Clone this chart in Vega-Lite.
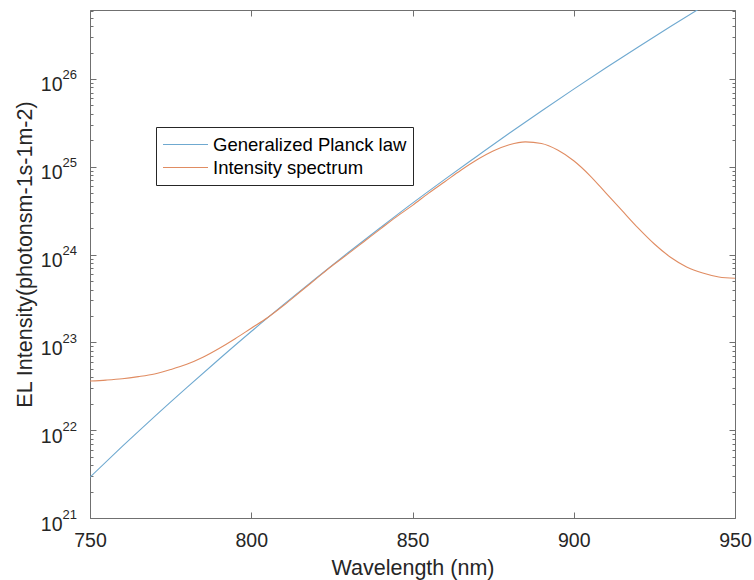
{
  "$schema": "https://vega.github.io/schema/vega-lite/v6.json",
  "width": 645,
  "height": 508,
  "autosize": {"type": "none"},
  "padding": {"left": 90, "top": 10, "right": 19, "bottom": 62},
  "background": "white",
  "config": {
    "view": {"stroke": null},
    "font": "Liberation Sans",
    "axis": {"grid": false, "domainColor": "#707070", "tickColor": "#707070", "labelColor": "#262626", "titleColor": "#262626", "labelFont": "Liberation Sans", "titleFont": "Liberation Sans", "titleFontWeight": "normal", "labelFlush": false, "labelOverlap": false, "labelBound": false}
  },
  "data": {"values": [
    {"wl": 750, "value": 2.92e21, "series": "Generalized Planck law"},
    {"wl": 760, "value": 6.53e21, "series": "Generalized Planck law"},
    {"wl": 770, "value": 1.43e22, "series": "Generalized Planck law"},
    {"wl": 780, "value": 3.06e22, "series": "Generalized Planck law"},
    {"wl": 790, "value": 6.43e22, "series": "Generalized Planck law"},
    {"wl": 800, "value": 1.33e23, "series": "Generalized Planck law"},
    {"wl": 810, "value": 2.69e23, "series": "Generalized Planck law"},
    {"wl": 820, "value": 5.36e23, "series": "Generalized Planck law"},
    {"wl": 830, "value": 1.05e24, "series": "Generalized Planck law"},
    {"wl": 840, "value": 2.02e24, "series": "Generalized Planck law"},
    {"wl": 850, "value": 3.85e24, "series": "Generalized Planck law"},
    {"wl": 860, "value": 7.19e24, "series": "Generalized Planck law"},
    {"wl": 870, "value": 1.32e25, "series": "Generalized Planck law"},
    {"wl": 880, "value": 2.41e25, "series": "Generalized Planck law"},
    {"wl": 890, "value": 4.32e25, "series": "Generalized Planck law"},
    {"wl": 900, "value": 7.66e25, "series": "Generalized Planck law"},
    {"wl": 910, "value": 1.34e26, "series": "Generalized Planck law"},
    {"wl": 920, "value": 2.31e26, "series": "Generalized Planck law"},
    {"wl": 930, "value": 3.95e26, "series": "Generalized Planck law"},
    {"wl": 940, "value": 6.67e26, "series": "Generalized Planck law"},
    {"wl": 950, "value": 1.11e27, "series": "Generalized Planck law"},
    {"wl": 750, "value": 3.63e22, "series": "Intensity spectrum"},
    {"wl": 755, "value": 3.72e22, "series": "Intensity spectrum"},
    {"wl": 760, "value": 3.85e22, "series": "Intensity spectrum"},
    {"wl": 765, "value": 4.07e22, "series": "Intensity spectrum"},
    {"wl": 770, "value": 4.37e22, "series": "Intensity spectrum"},
    {"wl": 775, "value": 4.90e22, "series": "Intensity spectrum"},
    {"wl": 780, "value": 5.62e22, "series": "Intensity spectrum"},
    {"wl": 785, "value": 6.76e22, "series": "Intensity spectrum"},
    {"wl": 790, "value": 8.51e22, "series": "Intensity spectrum"},
    {"wl": 795, "value": 1.10e23, "series": "Intensity spectrum"},
    {"wl": 800, "value": 1.45e23, "series": "Intensity spectrum"},
    {"wl": 805, "value": 1.91e23, "series": "Intensity spectrum"},
    {"wl": 810, "value": 2.63e23, "series": "Intensity spectrum"},
    {"wl": 815, "value": 3.72e23, "series": "Intensity spectrum"},
    {"wl": 820, "value": 5.25e23, "series": "Intensity spectrum"},
    {"wl": 825, "value": 7.41e23, "series": "Intensity spectrum"},
    {"wl": 830, "value": 1.02e24, "series": "Intensity spectrum"},
    {"wl": 835, "value": 1.41e24, "series": "Intensity spectrum"},
    {"wl": 840, "value": 1.95e24, "series": "Intensity spectrum"},
    {"wl": 845, "value": 2.69e24, "series": "Intensity spectrum"},
    {"wl": 850, "value": 3.63e24, "series": "Intensity spectrum"},
    {"wl": 855, "value": 5.01e24, "series": "Intensity spectrum"},
    {"wl": 860, "value": 6.76e24, "series": "Intensity spectrum"},
    {"wl": 865, "value": 9.12e24, "series": "Intensity spectrum"},
    {"wl": 870, "value": 1.20e25, "series": "Intensity spectrum"},
    {"wl": 875, "value": 1.51e25, "series": "Intensity spectrum"},
    {"wl": 880, "value": 1.78e25, "series": "Intensity spectrum"},
    {"wl": 885, "value": 1.92e25, "series": "Intensity spectrum"},
    {"wl": 890, "value": 1.84e25, "series": "Intensity spectrum"},
    {"wl": 895, "value": 1.55e25, "series": "Intensity spectrum"},
    {"wl": 900, "value": 1.17e25, "series": "Intensity spectrum"},
    {"wl": 905, "value": 7.94e24, "series": "Intensity spectrum"},
    {"wl": 910, "value": 5.01e24, "series": "Intensity spectrum"},
    {"wl": 915, "value": 3.16e24, "series": "Intensity spectrum"},
    {"wl": 920, "value": 2.00e24, "series": "Intensity spectrum"},
    {"wl": 925, "value": 1.32e24, "series": "Intensity spectrum"},
    {"wl": 930, "value": 9.33e23, "series": "Intensity spectrum"},
    {"wl": 935, "value": 7.24e23, "series": "Intensity spectrum"},
    {"wl": 940, "value": 6.17e23, "series": "Intensity spectrum"},
    {"wl": 945, "value": 5.56e23, "series": "Intensity spectrum"},
    {"wl": 950, "value": 5.37e23, "series": "Intensity spectrum"}
  ]},
  "resolve": {"scale": {"x": "shared", "y": "shared", "color": "shared"}, "axis": {"x": "independent", "y": "independent"}},
  "layer": [
    {
      "transform": [{"filter": "datum.series == 'Generalized Planck law'"}],
      "mark": {"type": "line", "clip": true, "strokeWidth": 1.1, "interpolate": "monotone"},
      "encoding": {
        "x": {"field": "wl", "type": "quantitative", "scale": {"domain": [750, 950], "nice": false, "zero": false},
          "axis": {"orient": "bottom", "values": [750, 800, 850, 900, 950], "tickSize": -6, "labelPadding": 34, "labelBaseline": "alphabetic", "labelFontSize": 19.5, "title": "Wavelength (nm)", "titleFontSize": 21.5, "titleBaseline": "alphabetic", "titleX": 322.5, "titleY": 56, "titleAlign": "center"}},
        "y": {"field": "value", "type": "quantitative", "scale": {"type": "log", "domain": [1e21, 6.1e26], "nice": false},
          "axis": {"orient": "left", "values": [1e21, 1e22, 1e23, 1e24, 1e25, 1e26], "tickSize": -6, "labelPadding": 34, "labelAlign": "right", "labelBaseline": "alphabetic", "labelOffset": 12, "labelFontSize": 19.5, "labelExpr": "'10'",
            "title": "EL Intensity(photonsm-1s-1m-2)", "titleFontSize": 21.5, "titleAngle": -90, "titleBaseline": "alphabetic", "titleAlign": "center", "titleX": -59, "titleY": 244}},
        "color": {"field": "series", "type": "nominal",
          "scale": {"domain": ["Generalized Planck law", "Intensity spectrum"], "range": ["#6fa9d0", "#e08c62"]},
          "legend": {"orient": "none", "legendX": 66, "legendY": 117, "title": null, "direction": "vertical", "strokeColor": "#262626", "fillColor": "white", "padding": 6, "clipHeight": 23, "symbolType": "stroke", "symbolSize": 2025, "symbolStrokeWidth": 1.2, "labelFont": "Liberation Sans", "labelFontSize": 18.5, "labelLimit": 0, "labelColor": "#000", "labelOffset": 4, "rowPadding": 0}
        }
      }
    },
    {
      "transform": [{"filter": "datum.series == 'Intensity spectrum'"}],
      "mark": {"type": "line", "clip": true, "strokeWidth": 1.1, "interpolate": "monotone"},
      "encoding": {
        "x": {"field": "wl", "type": "quantitative",
          "axis": {"orient": "top", "values": [750, 800, 850, 900, 950], "tickSize": -6, "labels": false, "title": null}},
        "y": {"field": "value", "type": "quantitative",
          "axis": {"orient": "right", "values": [1e21,2e21,3e21,4e21,5e21,6e21,7e21,8e21,9e21,1e22,2e22,3e22,4e22,5e22,6e22,7e22,8e22,9e22,1e23,2e23,3e23,4e23,5e23,6e23,7e23,8e23,9e23,1e24,2e24,3e24,4e24,5e24,6e24,7e24,8e24,9e24,1e25,2e25,3e25,4e25,5e25,6e25,7e25,8e25,9e25,1e26,2e26,3e26,4e26,5e26,6e26],
            "tickSize": {"condition": {"test": "abs(log(datum.value)/LN10 - round(log(datum.value)/LN10)) < 0.001", "value": -6}, "value": -3}, "labels": false, "title": null}},
        "color": {"field": "series", "type": "nominal"}
      }
    },
    {
      "transform": [{"filter": "datum.series == 'Intensity spectrum'"}],
      "mark": {"type": "line", "opacity": 0},
      "encoding": {
        "x": {"field": "wl", "type": "quantitative", "axis": null},
        "y": {"field": "value", "type": "quantitative",
          "axis": {"orient": "left", "domain": false, "values": [1e21,2e21,3e21,4e21,5e21,6e21,7e21,8e21,9e21,1e22,2e22,3e22,4e22,5e22,6e22,7e22,8e22,9e22,1e23,2e23,3e23,4e23,5e23,6e23,7e23,8e23,9e23,1e24,2e24,3e24,4e24,5e24,6e24,7e24,8e24,9e24,1e25,2e25,3e25,4e25,5e25,6e25,7e25,8e25,9e25,1e26,2e26,3e26,4e26,5e26,6e26],
            "tickSize": -3, "labelPadding": 31, "labelAlign": "left", "labelBaseline": "alphabetic", "labelOffset": 0, "labelFontSize": 13,
            "labelExpr": "abs(log(datum.value)/LN10 - round(log(datum.value)/LN10)) < 0.001 ? '' + round(log(datum.value)/LN10) : ''", "title": null}}
      }
    }
  ]
}
